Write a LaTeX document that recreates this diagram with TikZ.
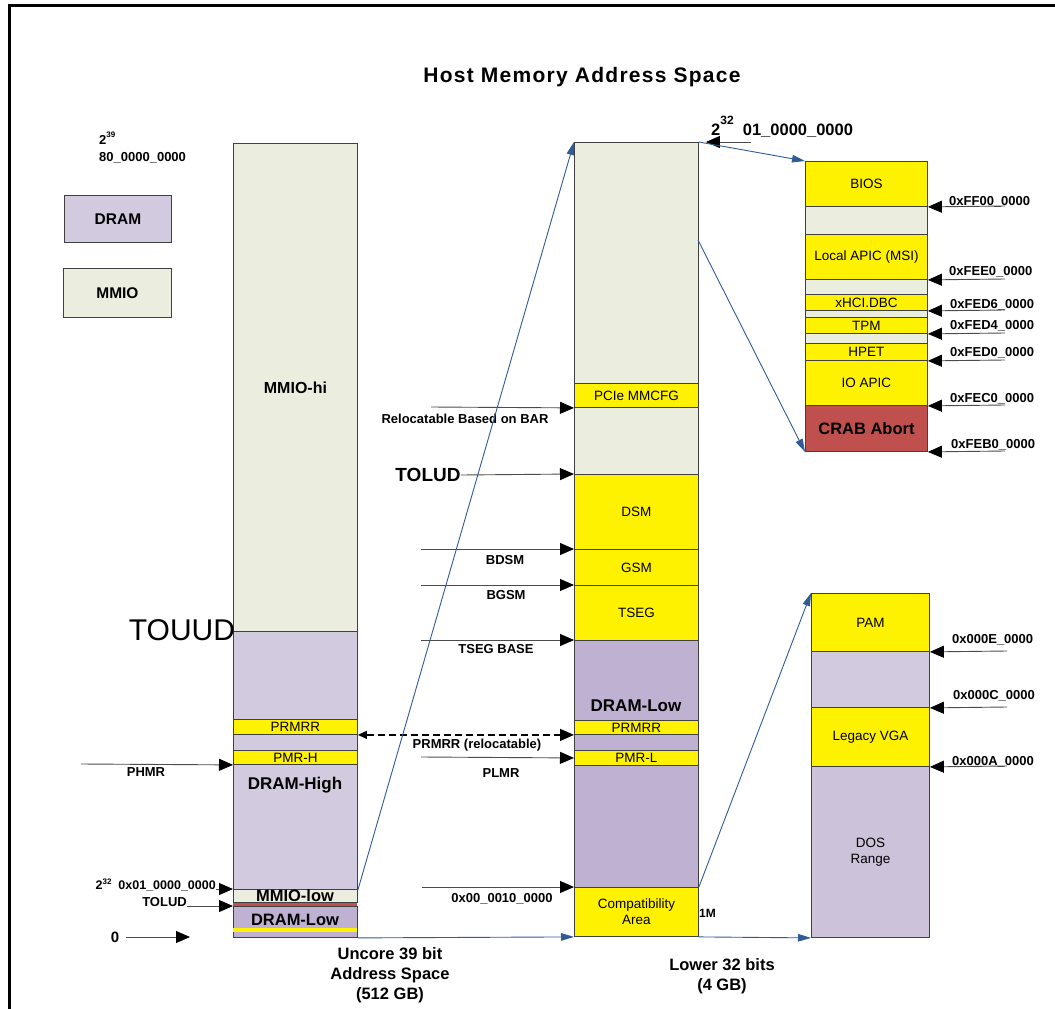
\documentclass[tikz,border=0pt]{standalone}
\usepackage{fontspec}
\setmainfont{Liberation Sans}
\usetikzlibrary{arrows.meta}
\definecolor{mmiocol}{HTML}{EBEEDF}
\definecolor{dramcol}{HTML}{D2CADF}
\definecolor{dramdk}{HTML}{BFB1D2}
\definecolor{dosc}{HTML}{CCC2DA}
\definecolor{crabc}{HTML}{C0504D}
\definecolor{bluec}{HTML}{2F5B97}
\definecolor{edgec}{HTML}{404040}
\newcommand\fs[1]{\fontsize{#1}{#1}\selectfont}
\newcommand\regn[7]{\node[#2,minimum width=#5pt,minimum height=#6pt] (#1) at (#3,#4) {#7};}
\newcommand\supr[3]{\raisebox{#1}{\fontsize{#2}{#2}\selectfont #3}}
\begin{document}
\begin{tikzpicture}[x=1pt,y=-1pt,
  reg/.style={draw=edgec,line width=0.9pt,inner sep=0pt,anchor=north west,align=center,font=\fs{13.5}},
  mmio/.style={reg,fill=mmiocol},
  dram/.style={reg,fill=dramcol},
  dramd/.style={reg,fill=dramdk},
  yel/.style={reg,fill=yellow},
  lbl/.style={font=\bfseries\fs{13},inner sep=0pt},
  big/.style={font=\bfseries\fs{16.5},inner sep=0pt,align=center},
  ptr/.style={draw=black!70,line width=0.9pt,-{Triangle[length=14pt,width=12pt,color=black]}},
  blu/.style={draw=bluec,line width=0.9pt,-{Triangle[length=13pt,width=7.5pt]}},
]
\useasboundingbox (0,0) rectangle (1055,1009);
\draw[line width=3pt] (9.5,1009) -- (9.5,5.5) -- (1055,5.5);

% title
\node[font=\bfseries\fs{21}\addfontfeature{LetterSpace=6},anchor=base,inner sep=0pt] (title) at (582,82) {Host Memory Address Space};

% legend
\regn{legdram}{dram,font=\bfseries\fs{15.5}}{64}{195}{107}{47}{DRAM}
\regn{legmmio}{mmio,font=\bfseries\fs{15.5}}{63}{268}{108}{49}{MMIO}

\node[lbl,anchor=base west] (p39) at (99,144) {2\supr{7pt}{8}{39}};
\node[lbl,anchor=base west] (a80) at (99,161.5) {80\_0000\_0000};

% left column
\regn{lhi}{mmio,font=\bfseries\fs{16}}{233}{143}{124}{488}{MMIO-hi}
\regn{ldram}{dram}{233}{631}{124}{258}{}
\regn{lprmrr}{yel}{233}{719}{124}{15}{PRMRR}
\regn{lpmrh}{yel}{233}{750}{124}{14}{PMR-H}
\node[big,font=\bfseries\fs{17},anchor=base] (ldh) at (295,789) {DRAM-High};
\regn{llow}{mmio}{233}{889}{124}{13}{}
\node[big] (llowt) at (295,896) {MMIO-low};
\regn{lred}{reg,fill=crabc,draw=none}{233}{902.5}{124}{3.5}{}
\regn{llowd}{dramd}{233}{906}{124}{31}{}
\node[big] (lldt) at (295,920) {DRAM-Low};
\fill[yellow] (233,927.5) rectangle (357,931.5);

\node[font=\fs{30},inner sep=0pt] (touud) at (182,630) {TOUUD};

\coordinate (phmrS) at (81,764);
\draw[ptr] (phmrS) -- (lpmrh.south west);
\node[lbl] (phmr) at (146,772) {PHMR};

\node[lbl,anchor=base east,font=\bfseries\fs{12.5}] (l232) at (216,889) {2\supr{5pt}{8}{32}\ \ 0x01\_0000\_0000};
\draw[ptr] (l232.base east) -- (llow.north west);
\node[lbl,anchor=base east] (tl) at (187,906) {TOLUD};
\draw[ptr] (tl.base east) -- (llowd.north west);
\node[font=\bfseries\fs{15},inner sep=0pt] (zero) at (115,937) {0};
\coordinate (zE) at (190,937);
\draw[ptr] ([xshift=7pt]zero.east) -- (zE);

\node[big,font=\bfseries\fontsize{16.5}{20}\selectfont] (unc) at (390,975.5) {Uncore 39 bit\\Address Space\\(512 GB)};

% middle column
\regn{mm}{mmio}{574}{142}{124}{332}{}
\regn{mpcie}{yel}{574}{383}{124}{24}{PCIe MMCFG}
\regn{mdsm}{yel}{574}{474}{124}{75}{DSM}
\regn{mgsm}{yel}{574}{549}{124}{36}{GSM}
\regn{mtseg}{yel}{574}{585}{124}{55}{TSEG}
\regn{mdram}{dramd}{574}{640}{124}{247}{}
\regn{mprmrr}{yel}{574}{720}{124}{14}{PRMRR}
\regn{mpmrl}{yel}{574}{750}{124}{15}{PMR-L}
\node[big,font=\bfseries\fs{17}] (mdl) at (636,706) {DRAM-Low};
\regn{mcomp}{yel,font=\fontsize{13.5}{16}\selectfont}{574}{887}{124}{49}{Compatibility\\Area}
\node[lbl,font=\bfseries\fs{12},anchor=west] (onem) at (699,913) {1M};

\coordinate (relS) at (431,407);
\draw[ptr] (relS) -- (mpcie.south west);
\node[lbl] (rel) at (465,419) {Relocatable Based on BAR};
\node[font=\bfseries\fs{19},inner sep=0pt] (tm) at (428,475) {TOLUD};
\draw[ptr] (tm.east) -- (mdsm.north west);
\coordinate (bdsmS) at (421,549);
\draw[ptr] (bdsmS) -- (mgsm.north west);
\node[lbl] (bdsm) at (505,560) {BDSM};
\coordinate (bgsmS) at (421,585);
\draw[ptr] (bgsmS) -- (mtseg.north west);
\node[lbl] (bgsm) at (506,595) {BGSM};
\coordinate (tsbS) at (421,640);
\draw[ptr] (tsbS) -- (mdram.north west);
\node[lbl] (tsb) at (496,649) {TSEG BASE};
\draw[draw=black,line width=1.3pt,dash pattern=on 7pt off 4pt,
  {Triangle[length=9pt,width=8pt]}-{Triangle[length=14pt,width=12pt]}] (lprmrr.south east) -- (mprmrr.south west);
\node[lbl,anchor=base] (prel) at (477,748.6) {PRMRR (relocatable)};
\coordinate (plmrS) at (421,757);
\draw[ptr] (plmrS) -- (mpmrl.west);
\node[lbl] (plmr) at (501,773) {PLMR};
\coordinate (mbS) at (422,887);
\draw[ptr] (mbS) -- (mcomp.north west);
\node[lbl] (mb) at (502,899) {0x00\_0010\_0000};

\node[big,font=\bfseries\fontsize{16.5}{20}\selectfont] (low32) at (722,976) {Lower 32 bits\\(4 GB)};

% top 2^32 label
\node[font=\bfseries\fs{16.5},anchor=base west,inner sep=0pt] (t232) at (711,135) {2\supr{11pt}{12}{32}\ \ 01\_0000\_0000};
\coordinate (t232S) at (751,142);
\draw[ptr] (t232S) -- ([xshift=7pt]mm.north east);

% right top column
\regn{bios}{yel}{805}{161}{122}{45}{BIOS}
\regn{g1}{mmio}{805}{206}{122}{28}{}
\regn{lapic}{yel}{805}{234}{122}{45}{Local APIC (MSI)}
\regn{g2}{mmio}{805}{279}{122}{15}{}
\regn{xhci}{yel}{805}{294}{122}{16}{xHCI.DBC}
\regn{g3}{mmio}{805}{310}{122}{7}{}
\regn{tpm}{yel}{805}{317}{122}{16}{TPM}
\regn{g4}{mmio}{805}{333}{122}{10}{}
\regn{hpet}{yel}{805}{343}{122}{17}{HPET}
\regn{ioapic}{yel}{805}{360}{122}{45}{IO APIC}
\regn{crab}{reg,fill=crabc,font=\bfseries\fs{16.5}}{805}{405}{122}{46}{CRAB Abort}

\coordinate (cFF) at (1005,206);  \draw[ptr] (cFF) -- (bios.south east);
\coordinate (cEE) at (1005,279);  \draw[ptr] (cEE) -- (lapic.south east);
\coordinate (cD6) at (1005,310);  \draw[ptr] (cD6) -- (xhci.south east);
\coordinate (cD4) at (1005,333);  \draw[ptr] (cD4) -- (tpm.south east);
\coordinate (cD0) at (1005,360);  \draw[ptr] (cD0) -- (hpet.south east);
\coordinate (cC0) at (1005,405);  \draw[ptr] (cC0) -- (ioapic.south east);
\coordinate (cB0) at (1005,451);  \draw[ptr] (cB0) -- (crab.south east);
\node[lbl,anchor=base west] (aFF) at (949,205.6) {0xFF00\_0000};
\node[lbl,anchor=base west] (aEE) at (949,275.6) {0xFEE0\_0000};
\node[lbl,anchor=base west] (aD6) at (950,308.6) {0xFED6\_0000};
\node[lbl,anchor=base west] (aD4) at (950,329.6) {0xFED4\_0000};
\node[lbl,anchor=base west] (aD0) at (950,356.6) {0xFED0\_0000};
\node[lbl,anchor=base west] (aC0) at (950,402.6) {0xFEC0\_0000};
\node[lbl,anchor=base west] (aB0) at (951,448.6) {0xFEB0\_0000};

% right bottom column
\regn{pam}{yel}{811}{593}{118}{58}{PAM}
\regn{rdram}{dram}{811}{651}{118}{56}{}
\regn{vga}{yel}{811}{707}{118}{59}{Legacy VGA}
\regn{dos}{reg,fill=dosc,font=\fontsize{13.5}{16}\selectfont}{811}{766}{118}{171}{DOS\\Range}

\coordinate (cE) at (1007,651);  \draw[ptr] (cE) -- (pam.south east);
\coordinate (cC) at (1007,707);  \draw[ptr] (cC) -- (rdram.south east);
\coordinate (cA) at (1007,766);  \draw[ptr] (cA) -- (vga.south east);
\node[lbl,anchor=base west] (aE) at (952,643.6) {0x000E\_0000};
\node[lbl,anchor=base west] (aC) at (953,699.6) {0x000C\_0000};
\node[lbl,anchor=base west] (aA) at (952,765.6) {0x000A\_0000};

% blue connectors
\draw[blu] (ldram.south east) -- (mm.north west);
\draw[blu] (llowd.south east) -- (mcomp.south west);
\draw[blu] (mm.north east) -- (bios.north west);
\coordinate (mmR) at (698,240);
\draw[blu] (mmR) -- (crab.south west);
\draw[blu] (mcomp.north east) -- (pam.north west);
\draw[blu] (mcomp.south east) -- (dos.south west);
\end{tikzpicture}
\end{document}
